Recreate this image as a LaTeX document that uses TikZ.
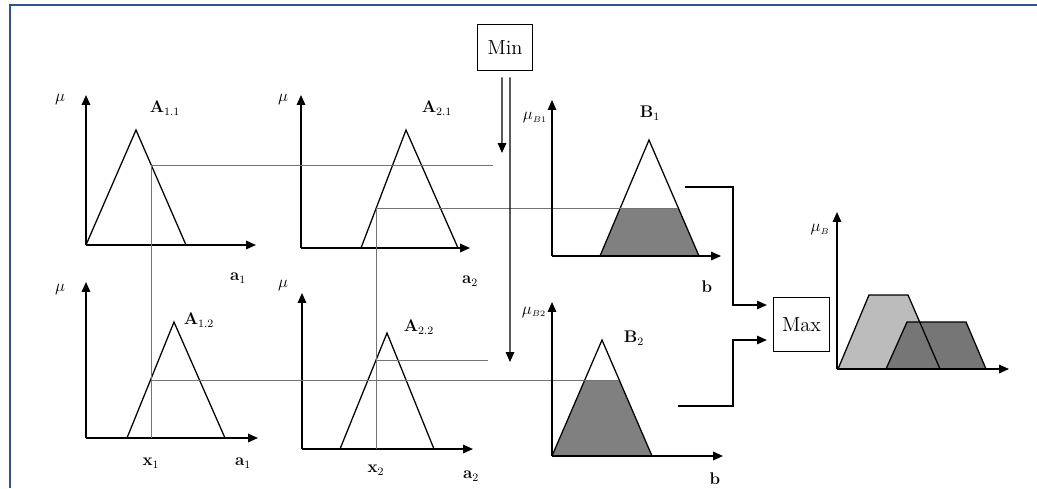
\documentclass[tikz,border=0pt]{standalone}
\usetikzlibrary{arrows.meta}

\definecolor{frameblue}{RGB}{47,85,151}
\definecolor{cutgray}{RGB}{128,128,128}
\definecolor{sumlight}{RGB}{188,188,188}
\definecolor{sumdark}{RGB}{118,118,118}

\tikzset{
  axis/.style={line width=1.1pt,-{Triangle[length=7pt,width=6pt]}},
  arr/.style={line width=0.9pt,-{Triangle[length=7pt,width=6pt]}},
  memb/.style={line width=0.9pt},
  guide/.style={draw=black!55,line width=0.5pt},
  opbox/.style={draw,line width=0.8pt,font=\fontsize{14.5}{16}\selectfont},
  lbl/.style={font=\fontsize{12}{14}\selectfont\bfseries,inner sep=1pt},
}

\begin{document}
\begin{tikzpicture}[x=0.025cm,y=-0.025cm]
\useasboundingbox (0,0) rectangle (1037,488);
\draw[frameblue,line width=1.5pt] (10,488) -- (10,5) -- (1037,5);

% antecedents, rule 1 and rule 2
\draw[axis] (86,245) -- (86,95);
\draw[axis] (86,245) -- (256,245);
\draw[axis] (301,248) -- (301,95);
\draw[axis] (301,248) -- (470,248);
\draw[axis] (86,438) -- (86,282);
\draw[axis] (86,438) -- (258,438);
\draw[axis] (302,449) -- (302,293);
\draw[axis] (302,449) -- (473,449);

\draw[memb] (86,245) -- (136,130) -- (186,245);
\draw[memb] (361,248) -- (406,130) -- (458,248);
\draw[memb] (127,438) -- (174,322) -- (225,438);
\draw[memb] (340,449) -- (387,333) -- (434,449);

\begin{scope}[every node/.style={lbl}]
  \node (mu11) at (60,100) {$\mu$};
  \node (mu21) at (283,100) {$\mu$};
  \node (mu12) at (60,290) {$\mu$};
  \node (mu22) at (283,285) {$\mu$};
  \node (A11) at (165,108) {A$_{1.1}$};
  \node (A21) at (437,108) {A$_{2.1}$};
  \node (A12) at (199,320) {A$_{1.2}$};
  \node (A22) at (419,327) {A$_{2.2}$};
  \node (a11) at (238,278) {a$_1$};
  \node (a21) at (470,281) {a$_2$};
  \node (a12) at (243,463) {a$_1$};
  \node (a22) at (471,476) {a$_2$};
  \node (x1) at (151,463) {x$_1$};
  \node (x2) at (376,470) {x$_2$};
\end{scope}

% inputs x1, x2 and their degrees
\coordinate (m11) at (151,165);
\coordinate (m12) at (151,380);
\coordinate (m21) at (376,208);
\coordinate (m22) at (376,360);
\coordinate (c11) at (151,438);
\coordinate (c22) at (376,449);

\draw[guide] (m11) -- (c11);
\draw[guide] (m21) -- (c22);
\draw[guide] (m11) -- (493,165);
\draw[guide] (m22) -- (488,360);

% consequents, clipped
\fill[cutgray] (600,256) -- (620.3,208) -- (678.3,208) -- (699,256) -- cycle;
\fill[cutgray] (552,456) -- (584.8,380) -- (619.2,380) -- (652,456) -- cycle;
\draw[memb] (600,256) -- (649,140) -- (699,256);
\draw[memb] (552,456) -- (602,340) -- (652,456);
\draw[guide] (m21) -- (678.3,208);
\draw[guide] (m12) -- (619.2,380);

\draw[axis] (552,256) -- (552,100);
\draw[axis] (552,256) -- (721,256);
\draw[axis] (552,456) -- (552,302);
\draw[axis] (552,456) -- (723,456);

\begin{scope}[every node/.style={lbl}]
  \node (muB1) at (535,118) {$\mu_{\scriptscriptstyle B1}$};
  \node (muB2) at (534,312) {$\mu_{\scriptscriptstyle B2}$};
  \node (B1) at (650,113) {B$_1$};
  \node (B2) at (634,338) {B$_2$};
  \node (b1) at (707,287) {b};
  \node (b2) at (715,479) {b};
\end{scope}

% min and max operators
\node[opbox,minimum width=39.7pt,minimum height=33.3pt] (min) at (505,47.5) {Min};
\node[opbox,minimum width=40.4pt,minimum height=39pt] (max) at (801.5,324.5) {Max};

\coordinate (cut1) at (502,153);
\coordinate (cut2) at (510,362);
\draw[arr] ([xshift=-2.1pt,yshift=-4.2pt]min.south) -- (cut1);
\draw[arr] ([xshift=3.5pt,yshift=-4.2pt]min.south) -- (cut2);

\coordinate (b1out) at (685,187);
\coordinate (b2out) at (678,406);
\coordinate (j1) at (733,305);
\coordinate (j2) at (733,340);
\draw[arr,shorten >=4pt] (b1out) -| (j1) -- (j1 -| max.west);
\draw[arr,shorten >=4pt] (b2out) -| (j2) -- (j2 -| max.west);

% aggregated output
\fill[sumlight] (838,369) -- (869,295) -- (908,295) -- (940,369) -- cycle;
\fill[sumdark] (886,369) -- (907,322) -- (966,322) -- (986,369) -- cycle;
\draw[memb] (838,369) -- (869,295) -- (908,295) -- (940,369);
\draw[memb] (886,369) -- (907,322) -- (966,322) -- (986,369);
\draw[axis] (837,369) -- (837,212);
\draw[axis] (837,369) -- (1009,369);
\node[lbl] (muB) at (820,230) {$\mu_{\scriptscriptstyle B}$};

\end{tikzpicture}
\end{document}
